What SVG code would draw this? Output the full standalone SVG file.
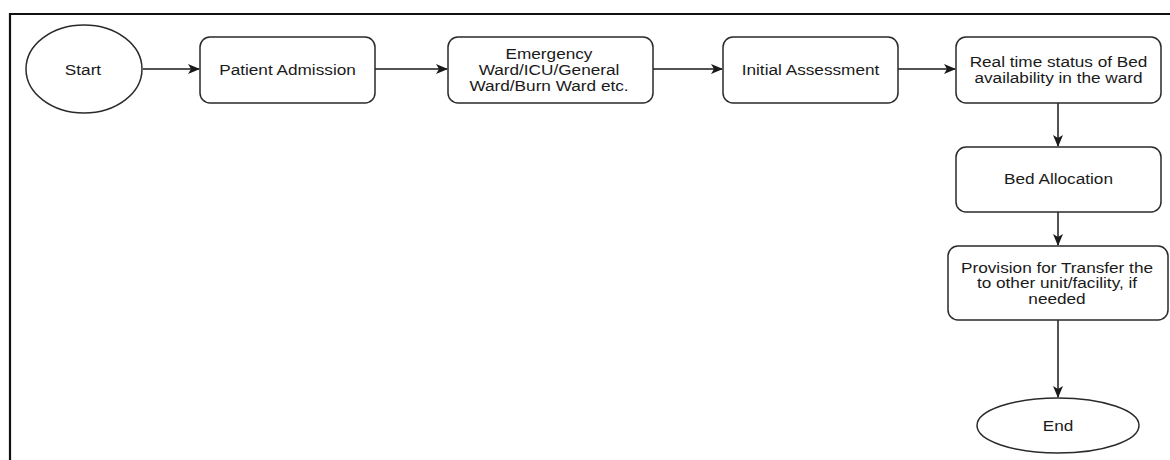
<svg xmlns="http://www.w3.org/2000/svg" width="1170" height="460" viewBox="0 0 1170 460">
<style>
.shape{fill:#ffffff;stroke:#2a2a2a;stroke-width:1.5}
.edge{fill:none;stroke:#1a1a1a;stroke-width:1.5;marker-end:url(#arr)}
text{font-family:"Liberation Sans",Arial,sans-serif;font-size:15.5px;fill:#1a1a1a;text-anchor:middle}
</style>
<defs>
<marker id="arr" viewBox="0 0 12 10" refX="11" refY="5" markerWidth="12" markerHeight="10" markerUnits="userSpaceOnUse" orient="auto">
<path d="M0,0 L12,5 L0,10 L3,5 Z" fill="#1a1a1a"/>
</marker>
</defs>
<rect width="1170" height="460" fill="#ffffff"/>
<g id="frame">
<path d="M10,460 V14 H1170" fill="none" stroke="#111" stroke-width="2.2"/>
</g>
<g id="connectors">
<path class="edge" d="M143,69 H199"/>
<path class="edge" d="M375,69 H447"/>
<path class="edge" d="M653,69 H722"/>
<path class="edge" d="M898,69 H955"/>
<path class="edge" d="M1058,103 V146"/>
<path class="edge" d="M1058,212 V245"/>
<path class="edge" d="M1058,320 V397"/>
</g>
<g id="start">
<ellipse class="shape" cx="84" cy="69" rx="58" ry="44"/>
<text transform="translate(83,75) scale(1.11,1)">Start</text>
</g>
<g id="patient-admission">
<rect class="shape" x="200" y="37" width="175" height="66" rx="10"/>
<text transform="translate(287.5,75) scale(1.11,1)">Patient Admission</text>
</g>
<g id="ward">
<rect class="shape" x="448" y="37" width="205" height="66" rx="10"/>
<text transform="translate(549,59) scale(1.11,1)"><tspan x="0" y="0">Emergency</tspan><tspan x="0" y="16">Ward/ICU/General</tspan><tspan x="0" y="32">Ward/Burn Ward etc.</tspan></text>
</g>
<g id="initial-assessment">
<rect class="shape" x="723" y="37" width="175" height="66" rx="10"/>
<text transform="translate(810.5,75) scale(1.11,1)">Initial Assessment</text>
</g>
<g id="bed-status">
<rect class="shape" x="956" y="37" width="205" height="66" rx="10"/>
<text transform="translate(1058.5,67) scale(1.11,1)"><tspan x="0" y="0">Real time status of Bed</tspan><tspan x="0" y="16">availability in the ward</tspan></text>
</g>
<g id="bed-allocation">
<rect class="shape" x="956" y="147" width="205" height="65" rx="10"/>
<text transform="translate(1058.5,184) scale(1.11,1)">Bed Allocation</text>
</g>
<g id="transfer">
<rect class="shape" x="948" y="246" width="220" height="74" rx="10"/>
<text transform="translate(1057,273) scale(1.11,1)"><tspan x="0" y="0">Provision for Transfer the</tspan><tspan x="0" y="15.5">to other unit/facility, if</tspan><tspan x="0" y="31">needed</tspan></text>
</g>
<g id="end">
<ellipse class="shape" cx="1058" cy="425.5" rx="81" ry="27.5"/>
<text transform="translate(1058,431) scale(1.11,1)">End</text>
</g>
</svg>
